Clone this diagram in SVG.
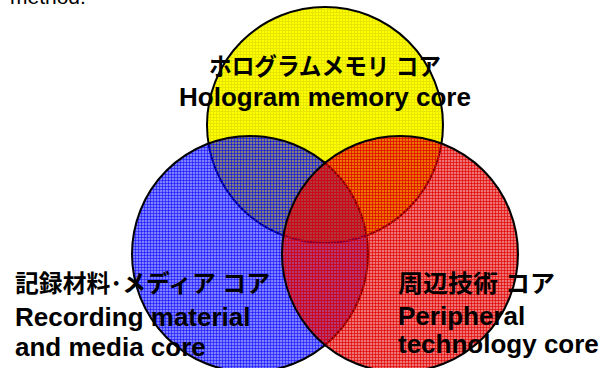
<svg xmlns="http://www.w3.org/2000/svg" width="605" height="368" viewBox="0 0 605 368">
<defs>
<pattern id="py" width="3" height="3" patternUnits="userSpaceOnUse"><rect width="3" height="3" fill="#FFFF00"/><path d="M0 0.5H3M0.5 0V3" stroke="#E6E600" stroke-width="1"/></pattern>
<pattern id="pb" width="3" height="3" patternUnits="userSpaceOnUse"><rect width="3" height="3" fill="#0000FF" fill-opacity="0.5"/><path d="M0 0.5H3M0.5 0V3" stroke="#0000FF" stroke-opacity="0.5" stroke-width="1"/></pattern>
<pattern id="pr" width="3" height="3" patternUnits="userSpaceOnUse"><rect width="3" height="3" fill="#E00000" fill-opacity="0.55"/><path d="M0 0.5H3M0.5 0V3" stroke="#E00000" stroke-opacity="0.65" stroke-width="1"/></pattern>
</defs>
<style>
.c{stroke:#000;stroke-width:2}
.t{font-family:"Liberation Sans","Noto Sans CJK JP",sans-serif;font-weight:bold;fill:#000}
.en{font-size:26px}
.jp{font-size:24px}
</style>
<text x="10" y="4" style="font-family:'Liberation Sans',sans-serif;font-size:21px;fill:#000">method.</text>
<g id="hologram-memory-core">
<circle class="c" cx="325" cy="125" r="118" fill="url(#py)"/>
</g>
<g id="recording-material-core">
<circle class="c" cx="250" cy="254" r="118" fill="url(#pb)"/>
</g>
<g id="peripheral-technology-core">
<circle class="c" cx="400" cy="254" r="118" fill="url(#pr)"/>
</g>
<g id="connectors"/>
<g id="labels">
<text class="t jp" x="325" y="75" text-anchor="middle" font-size="23" textLength="232" lengthAdjust="spacingAndGlyphs">ホログラムメモリ コア</text>
<text class="t en" x="325" y="106" text-anchor="middle">Hologram memory core</text>
<text class="t jp" x="15" y="292" textLength="255" lengthAdjust="spacingAndGlyphs">記録材料･メディア コア</text>
<text class="t en" x="15" y="326">Recording material</text>
<text class="t en" x="15" y="356">and media core</text>
<text class="t jp" x="398" y="292" textLength="157" lengthAdjust="spacingAndGlyphs">周辺技術 コア</text>
<text class="t en" x="398" y="325">Peripheral</text>
<text class="t en" x="398" y="353">technology core</text>
</g>
</svg>
